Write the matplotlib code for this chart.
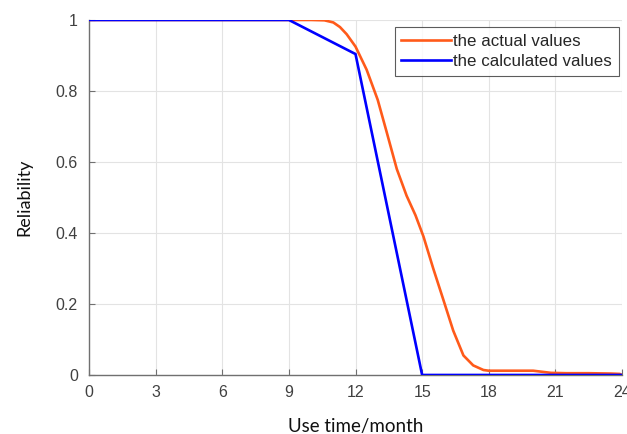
import matplotlib
matplotlib.use("Agg")
import matplotlib.pyplot as plt

plt.rcParams["font.family"] = ["Liberation Sans", "DejaVu Sans"]

# Data
actual_t = [0, 3, 6, 9, 10, 10.6, 11.0, 11.3, 11.6, 12.0, 12.5, 13.0, 13.4, 13.86, 14.3, 14.7, 15.06, 15.5, 15.96, 16.4, 16.86, 17.3, 17.76, 18.0, 19.0, 20.0, 20.8, 21.5, 22.5, 23.5, 23.9, 24.0]
actual_r = [1, 1, 1, 1, 1, 0.999, 0.993, 0.98, 0.96, 0.925, 0.86, 0.775, 0.685, 0.58, 0.505, 0.45, 0.39, 0.30, 0.211, 0.125, 0.055, 0.027, 0.014, 0.012, 0.012, 0.012, 0.006, 0.005, 0.005, 0.004, 0.003, 0.0]
calc_t = [0, 9, 12, 15, 24]
calc_r = [1, 1, 0.904, 0, 0]
xticks = [0, 3, 6, 9, 12, 15, 18, 21, 24]
yticks = [0, 0.2, 0.4, 0.6, 0.8, 1]
ytick_labels = ["0", "0.2", "0.4", "0.6", "0.8", "1"]

fig = plt.figure(figsize=(6.27, 4.34), dpi=100)
ax = fig.add_axes([0.142, 0.136, 0.850, 0.818])

ax.plot(actual_t, actual_r, color="#FF5A1A", lw=1.9, label="the actual values", zorder=3)
ax.plot(calc_t, calc_r, color="#0000FF", lw=1.9, label="the calculated values", zorder=4)

ax.set_xlim(0, 24)
ax.set_ylim(0, 1)
ax.set_xticks(xticks)
ax.set_xticklabels([str(t) for t in xticks])
ax.set_yticks(yticks)
ax.set_yticklabels(ytick_labels)
ax.grid(True, color="#e3e3e3", lw=0.8)
ax.set_axisbelow(True)

for s in ["top", "right"]:
    ax.spines[s].set_visible(False)
for s in ["left", "bottom"]:
    ax.spines[s].set_color("#707070")
    ax.spines[s].set_linewidth(1.0)

ax.tick_params(direction="in", length=4, color="#707070", labelcolor="#404040", labelsize=11.5)
ax.tick_params(axis="x", pad=7)
ax.tick_params(axis="y", pad=8)

ax.set_xlabel("Use time/month", fontsize=13.5, family="Lato", labelpad=13, color="#111111")
ax.set_ylabel("Reliability", fontsize=13, family="Lato", labelpad=17, color="#111111")

leg = ax.legend(loc="upper right", bbox_to_anchor=(1.0, 0.99), prop={"family": "Liberation Sans", "size": 12.2},
                frameon=True, fancybox=False, edgecolor="#333333", handlelength=2.9,
                handletextpad=0.15, borderpad=0.4, labelspacing=0.3, borderaxespad=0.2)
leg.get_frame().set_linewidth(0.8)
for t in leg.get_texts():
    t.set_color("#262626")

fig.savefig("out.png", dpi=100)
